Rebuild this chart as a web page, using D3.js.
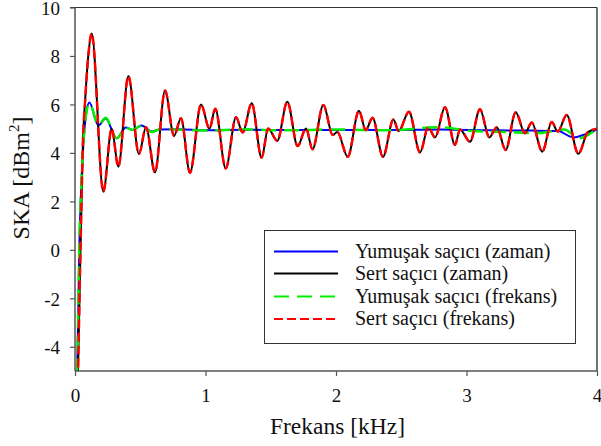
<!DOCTYPE html>
<html>
<head>
<meta charset="utf-8">
<script src="https://cdn.jsdelivr.net/npm/d3@7/dist/d3.min.js"></script>
<style>
  html, body { margin: 0; padding: 0; background: #fff; }
  svg { display: block; }
</style>
</head>
<body>
<svg id="chart" width="601" height="446"></svg>
<script>
// Radar cross section (SKA) vs frequency for soft and hard scatterers,
// computed in the time domain and the frequency domain.

const xTicks = [0, 1, 2, 3, 4];
const xTickLabels = ["0", "1", "2", "3", "4"];
const yTicks = [10, 8, 6, 4, 2, 0, -2, -4];
const yTickLabels = ["10", "8", "6", "4", "2", "0", "-2", "-4"];

// [frequency kHz, SKA dBm^2] at the turning points of each curve
const hardTime = [
  [0.012, -7], [0.023, -5], [0.038, -1], [0.05, 2], [0.061, 4.5], [0.077, 6.1],
  [0.1, 7.9], [0.128, 8.93], [0.217, 2.4], [0.281, 5.0], [0.332, 3.43],
  [0.409, 7.17], [0.49, 3.95], [0.544, 5.06], [0.613, 3.2], [0.69, 6.57],
  [0.759, 4.7], [0.812, 5.43], [0.881, 3.18], [0.966, 6.0], [1.03, 5.0],
  [1.075, 5.82], [1.155, 3.36], [1.234, 5.47], [1.285, 4.84], [1.354, 6.05],
  [1.43, 3.8], [1.48, 5.01], [1.55, 4.5], [1.627, 6.11], [1.706, 4.28],
  [1.77, 5.01], [1.82, 4.15], [1.903, 5.98], [1.975, 4.74], [2.01, 4.86],
  [2.09, 3.84], [2.176, 5.74], [2.228, 4.94], [2.28, 5.45], [2.36, 3.84],
  [2.44, 5.38], [2.48, 4.9], [2.559, 5.7], [2.644, 4.02], [2.707, 5.06],
  [2.759, 4.64], [2.835, 5.88], [2.912, 4.33], [2.95, 4.97], [3.027, 4.46],
  [3.103, 5.8], [3.175, 4.64], [3.232, 5.06], [3.3, 4.12], [3.377, 5.68],
  [3.448, 4.81], [3.5, 5.25], [3.581, 4.05], [3.653, 5.27], [3.699, 4.88],
  [3.768, 5.56], [3.857, 3.96], [3.93, 4.86], [4.0, 5.0]
];
const hardFreq = hardTime.map(d => d.slice());

const softTime = [
  [0.01, -7], [0.015, -5], [0.018, -4.5], [0.026, -2.3], [0.033, 0.1],
  [0.044, 2.1], [0.063, 4.25], [0.085, 5.6], [0.11, 6.08], [0.179, 5.13],
  [0.235, 5.42], [0.319, 4.6], [0.39, 5.05], [0.44, 4.95], [0.51, 5.13],
  [0.588, 4.88], [0.65, 4.97], [0.8, 4.98], [1.0, 4.93], [1.3, 4.96],
  [1.6, 4.94], [2.0, 4.95], [2.4, 4.94], [2.8, 4.97], [3.2, 4.93],
  [3.5, 4.92], [3.7, 4.9], [3.82, 4.64], [3.9, 4.75], [4.0, 4.97]
];
const softFreq = [
  [0.01, -7], [0.015, -5], [0.018, -4.5], [0.026, -2.3], [0.033, 0.1],
  [0.044, 2.1], [0.063, 4.25], [0.085, 5.6], [0.11, 6.05], [0.179, 5.15],
  [0.235, 5.45], [0.319, 4.6], [0.39, 5.03], [0.44, 4.95], [0.51, 5.12],
  [0.588, 4.86], [0.65, 4.98], [0.8, 4.96], [1.0, 4.92], [1.3, 4.97],
  [1.6, 4.93], [2.0, 4.97], [2.4, 4.93], [2.8, 5.06], [3.05, 4.9],
  [3.3, 4.86], [3.55, 4.82], [3.75, 4.97], [3.86, 4.6], [3.95, 4.8], [4.0, 4.97]
];

const seriesNames = [
  "Yumuşak saçıcı (zaman)",
  "Sert saçıcı (zaman)",
  "Yumuşak saçıcı (frekans)",
  "Sert saçıcı (frekans)"
];
const seriesColors = ["#0000ff", "#000000", "#00ee00", "#ff0000"];

const serif = "'Liberation Serif', 'Times New Roman', serif";

const svg = d3.select("#chart");
const plotLeft = 75, plotRight = 597, plotTop = 7.5, plotBottom = 371;

const x = d3.scaleLinear().domain([0, 4]).range([plotLeft, plotRight]);
const y = d3.scaleLinear().domain([-5, 10]).range([plotBottom, plotTop]);

svg.append("defs").append("clipPath").attr("id", "plotClip")
  .append("rect")
  .attr("x", plotLeft).attr("y", plotTop)
  .attr("width", plotRight - plotLeft).attr("height", plotBottom - plotTop);

const line = d3.line()
  .x(d => x(d[0]))
  .y(d => y(d[1]))
  .curve(d3.curveMonotoneX);

const series = [
  { data: softTime, color: seriesColors[0], width: 2, dash: null },
  { data: hardTime, color: seriesColors[1], width: 2, dash: null },
  { data: softFreq, color: seriesColors[2], width: 2.5, dash: "15,8" },
  { data: hardFreq, color: seriesColors[3], width: 2.5, dash: "9,4" }
];

const plot = svg.append("g").attr("clip-path", "url(#plotClip)");
series.forEach(s => {
  plot.append("path")
    .datum(s.data)
    .attr("fill", "none")
    .attr("stroke", s.color)
    .attr("stroke-width", s.width)
    .attr("stroke-dasharray", s.dash)
    .attr("d", line);
});

// frame: top and right edges
svg.append("line")
  .attr("x1", plotLeft - 5).attr("x2", plotRight)
  .attr("y1", plotTop).attr("y2", plotTop)
  .attr("stroke", "#333").attr("stroke-width", 1);
svg.append("line")
  .attr("x1", plotRight).attr("x2", plotRight)
  .attr("y1", plotTop).attr("y2", plotBottom)
  .attr("stroke", "#444").attr("stroke-width", 1.5);

// y axis
const yAxis = d3.axisLeft(y)
  .tickValues(yTicks)
  .tickSize(5)
  .tickPadding(10)
  .tickFormat((d, i) => yTickLabels[i]);
const gy = svg.append("g").attr("transform", `translate(${plotLeft},0)`).call(yAxis);
gy.select(".domain").attr("stroke", "#555").attr("stroke-width", 1.5)
  .attr("d", `M0,${plotTop}V${plotBottom}`);
gy.selectAll(".tick line").attr("stroke", "#555").attr("stroke-width", 1.2);
gy.selectAll(".tick text")
  .attr("font-family", serif)
  .attr("font-size", 19).attr("fill", "#111")
  .attr("dy", "0.36em");

// x axis
const xAxis = d3.axisBottom(x)
  .tickValues(xTicks)
  .tickSize(5)
  .tickPadding(13)
  .tickFormat((d, i) => xTickLabels[i]);
const gx = svg.append("g").attr("transform", `translate(0,${plotBottom})`).call(xAxis);
gx.select(".domain").attr("stroke", "#555").attr("stroke-width", 1.5)
  .attr("d", `M${plotLeft},0H${plotRight}`);
gx.selectAll(".tick line").attr("stroke", "#555").attr("stroke-width", 1.2);
gx.selectAll(".tick text")
  .attr("font-family", serif)
  .attr("font-size", 19).attr("fill", "#111");

// axis titles
svg.append("text")
  .attr("x", 337.5).attr("y", 434)
  .attr("text-anchor", "middle")
  .attr("font-family", serif)
  .attr("font-size", 23.5).attr("fill", "#111")
  .text("Frekans [kHz]");

const yTitle = svg.append("text")
  .attr("transform", "translate(29,178) rotate(-90)")
  .attr("text-anchor", "middle")
  .attr("font-family", serif)
  .attr("font-size", 24).attr("fill", "#111");
yTitle.append("tspan").text("SKA [dBm");
yTitle.append("tspan").attr("font-size", 15).attr("dy", -10).text("2");
yTitle.append("tspan").attr("dy", 10).text("]");

// legend
const legend = svg.append("g");
legend.append("rect")
  .attr("x", 264.5).attr("y", 230.5)
  .attr("width", 311).attr("height", 113)
  .attr("fill", "#fff").attr("stroke", "#333").attr("stroke-width", 1);

const rowY = [251.5, 273.5, 296.5, 319];
series.forEach((s, i) => {
  legend.append("line")
    .attr("x1", 274).attr("x2", 338)
    .attr("y1", rowY[i]).attr("y2", rowY[i])
    .attr("stroke", s.color)
    .attr("stroke-width", 2)
    .attr("stroke-dasharray", s.dash);
  legend.append("text")
    .attr("x", 355).attr("y", rowY[i] + 6)
    .attr("font-family", serif)
    .attr("font-size", 20).attr("fill", "#111")
    .text(seriesNames[i]);
});
</script>
</body>
</html>
